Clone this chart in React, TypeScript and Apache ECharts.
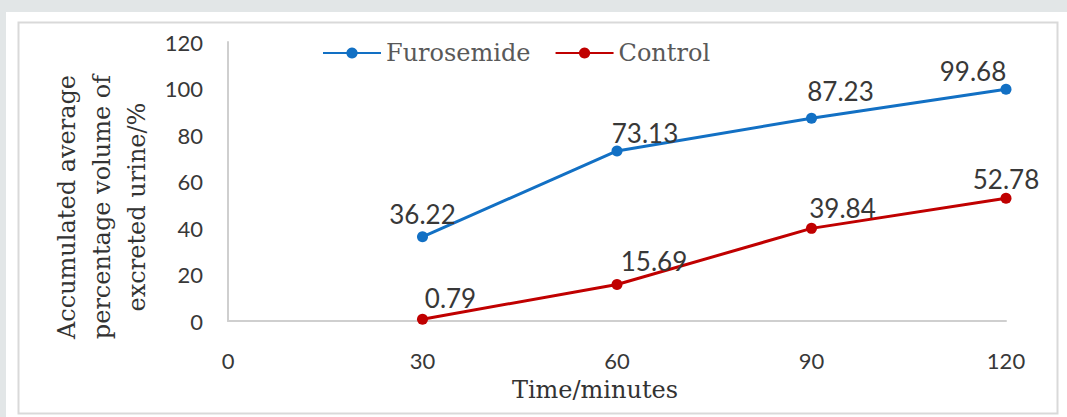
import React, { useEffect, useRef } from "react";
import * as echarts from "echarts";

const times = [30, 60, 90, 120];
const furosemide = [36.22, 73.13, 87.23, 99.68];
const control = [0.79, 15.69, 39.84, 52.78];
const xTicks = [0, 30, 60, 90, 120];
const yTicks = [0, 20, 40, 60, 80, 100, 120];
const seriesNames = ["Furosemide", "Control"];
const yTitle = "Accumulated average\npercentage volume of\nexcreted urine/%";
const xTitle = "Time/minutes";

// label offsets (styling only)
const furoOffsets = [[0, -22], [28, -17], [29, -27], [-33, -18]];
const ctrlOffsets = [[28, -21], [37, -23], [31, -20], [0, -19]];

const BLUE = "#1270c4";
const RED = "#c00000";

function build(values: number[], offsets: number[][]) {
  return values.map((v, i) => ({
    value: [times[i], v],
    label: { offset: [offsets[i][0], offsets[i][1] + 22] },
  }));
}

export default function App() {
  const ref = useRef<HTMLDivElement>(null);
  useEffect(() => {
    document.body.style.margin = "0";
    const chart = echarts.init(ref.current!, null, { renderer: "svg" });
    const labelStyle = {
      show: true,
      position: "top",
      distance: 4,
      fontFamily: "Lato",
      fontSize: 26,
      color: "#383838",
      formatter: (p: any) => p.value[1].toFixed(2),
    };
    chart.setOption({
      animation: false,
      backgroundColor: "#e2e6e7",
      graphic: [
        { type: "rect", z: -10, shape: { x: 6, y: 12, width: 1061, height: 405 }, style: { fill: "#ffffff" } },
        { type: "rect", z: -9, shape: { x: 18.5, y: 22.5, width: 1039, height: 391 }, style: { fill: "none", stroke: "#d9d9d9", lineWidth: 2 } },
        {
          type: "text",
          x: 102,
          y: 207,
          rotation: Math.PI / 2,
          style: {
            text: yTitle,
            fontFamily: "DejaVu Serif",
            fontSize: 24,
            lineHeight: 35,
            fill: "#333333",
            align: "center",
            verticalAlign: "middle",
          },
        },
        {
          type: "text",
          x: 595,
          y: 390,
          style: {
            text: xTitle,
            fontFamily: "DejaVu Serif",
            fontSize: 24,
            fill: "#333333",
            align: "center",
            verticalAlign: "middle",
          },
        },
      ],
      legend: {
        data: seriesNames,
        left: 322,
        top: 41,
        padding: 0,
        itemWidth: 58,
        itemHeight: 14,
        itemGap: 24,
        textStyle: { fontFamily: "DejaVu Serif", fontSize: 24, color: "#595959" },
      },
      grid: { left: 228, right: 61, top: 42, bottom: 96 },
      xAxis: {
        type: "value",
        min: xTicks[0],
        max: xTicks[xTicks.length - 1],
        interval: 30,
        axisLine: { show: true, lineStyle: { color: "#cfcfcf", width: 2 } },
        axisTick: { show: false },
        splitLine: { show: false },
        axisLabel: { margin: 28, fontFamily: "Lato", fontSize: 22, color: "#383838" },
      },
      yAxis: {
        type: "value",
        min: yTicks[0],
        max: yTicks[yTicks.length - 1],
        interval: 20,
        axisLine: { show: true, lineStyle: { color: "#cfcfcf", width: 2 } },
        axisTick: { show: false },
        splitLine: { show: false },
        axisLabel: { margin: 25, fontFamily: "Lato", fontSize: 22, color: "#383838" },
      },
      series: [
        {
          name: seriesNames[0],
          type: "line",
          data: build(furosemide, furoOffsets),
          symbol: "circle",
          symbolSize: 11,
          lineStyle: { color: BLUE, width: 3 },
          itemStyle: { color: BLUE },
          label: labelStyle,
        },
        {
          name: seriesNames[1],
          type: "line",
          data: build(control, ctrlOffsets),
          symbol: "circle",
          symbolSize: 11,
          lineStyle: { color: RED, width: 3 },
          itemStyle: { color: RED },
          label: labelStyle,
        },
      ],
    });
    return () => chart.dispose();
  }, []);
  return <div ref={ref} style={{ width: 1067, height: 417 }} />;
}
